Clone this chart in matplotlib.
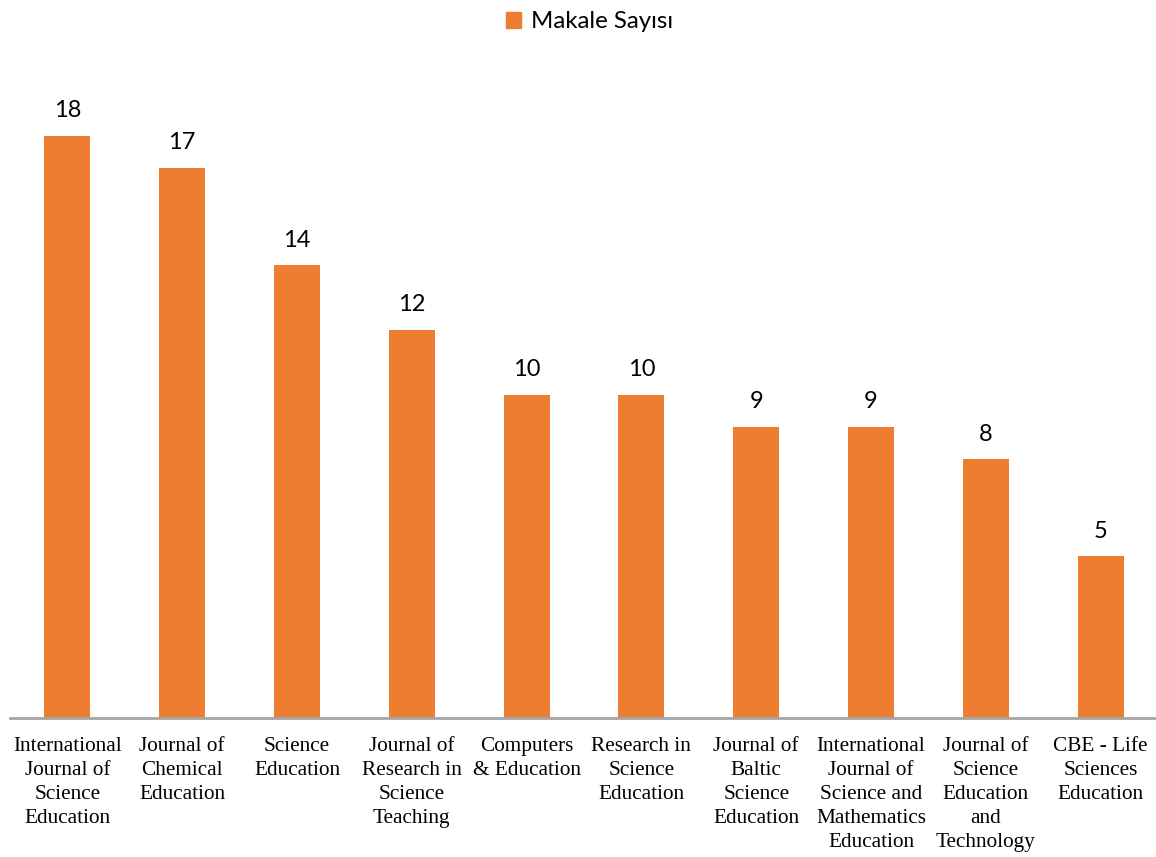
import matplotlib
matplotlib.use("Agg")
import matplotlib.pyplot as plt
import matplotlib.patches as mpatches

journals = [
    "International\nJournal of\nScience\nEducation",
    "Journal of\nChemical\nEducation",
    "Science\nEducation",
    "Journal of\nResearch in\nScience\nTeaching",
    "Computers\n& Education",
    "Research in\nScience\nEducation",
    "Journal of\nBaltic\nScience\nEducation",
    "International\nJournal of\nScience and\nMathematics\nEducation",
    "Journal of\nScience\nEducation\nand\nTechnology",
    "CBE - Life\nSciences\nEducation",
]
article_counts = [18, 17, 14, 12, 10, 10, 9, 9, 8, 5]

ORANGE = "#ED7D31"

fig = plt.figure(figsize=(11.56, 8.57), dpi=100)
ax = fig.add_axes([10 / 1156, 1 - 718 / 857, 1148 / 1156, (718 - 71) / 857])

x = range(len(journals))
bars = ax.bar(x, article_counts, width=0.4, color=ORANGE)

for xi, val in zip(x, article_counts):
    ax.annotate(str(val), (xi, val), textcoords="offset points", xytext=(0, 10.5),
                ha="center", va="bottom", fontsize=17, family="Lato", color="#000000")

ax.set_xlim(-0.5, len(journals) - 0.5)
ax.set_ylim(0, 20)
ax.set_xticks(list(x))
ax.set_xticklabels(journals, family="Liberation Serif", fontsize=15.3,
                   linespacing=1.37, va="top")
ax.tick_params(axis="x", length=0, pad=13.5)
ax.set_yticks([])
for side in ["top", "left", "right"]:
    ax.spines[side].set_visible(False)
ax.spines["bottom"].set_color("#A6A6A6")
ax.spines["bottom"].set_linewidth(2)

handle = mpatches.Patch(color=ORANGE, label="Makale Sayısı")
fig.legend(handles=[handle], loc="upper center", bbox_to_anchor=(0.51, 1.012),
           frameon=False, prop={"family": "Lato", "size": 17.3},
           handlelength=0.6, handleheight=0.6, handletextpad=0.4)

fig.savefig("out.png", dpi=100)
